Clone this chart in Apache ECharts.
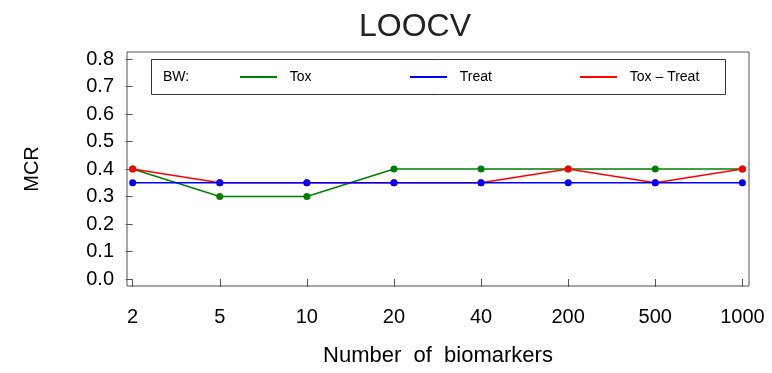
<!DOCTYPE html>
<html>
<head>
<meta charset="utf-8">
<script src="https://cdn.jsdelivr.net/npm/echarts@6/dist/echarts.min.js"></script>
<style>
html,body{margin:0;padding:0;background:#fff;}
#chart{width:772px;height:373px;}
</style>
</head>
<body>
<div id="chart"></div>
<script>
// 横轴标签(生物标志物个数)
var xLabels = ['2','5','10','20','40','200','500','1000'];
// 纵轴刻度
var yTicks = [0,0.1,0.2,0.3,0.4,0.5,0.6,0.7,0.8];
// 各方法的 MCR
var toxVals = [0.4,0.3,0.3,0.4,0.4,0.4,0.4,0.4];
var treatVals = [0.35,0.35,0.35,0.35,0.35,0.35,0.35,0.35];
var toxTreatVals = [0.4,0.35,0.35,0.35,0.35,0.4,0.35,0.4];
var seriesNames = ['Tox','Treat','Tox – Treat'];

var FONT = "'Liberation Sans', Arial, sans-serif";

function pairs(vals){
	var out = [];
	for(var i=0;i<vals.length;i++){
		out.push([i, vals[i]]);
	}
	return out;
}
var xIdx = [];
for(var i=0;i<xLabels.length;i++){ xIdx.push(i); }

function lineSeries(name, color, vals, z){
	return {
		name: name,
		type: 'line',
		data: pairs(vals),
		z: z,
		symbol: 'circle',
		symbolSize: 7,
		showSymbol: true,
		lineStyle: {color: color, width: 1.5},
		itemStyle: {color: color},
		emphasis: {disabled: true}
	};
}

/*图例:每项单独放,间距固定*/
var legendLeft = [240, 410, 580];
var legends = [];
for(var k=0;k<seriesNames.length;k++){
	legends.push({
		data: [seriesNames[k]],
		left: legendLeft[k],
		top: 70,
		padding: 0,
		itemWidth: 37,
		itemHeight: 2,
		icon: 'rect',
		selectedMode: false,
		formatter: function(name){ return '  ' + name; },
		textStyle: {fontFamily: FONT, fontSize: 14, color: '#000'}
	});
}

var myChart = echarts.init(document.getElementById('chart'));
var option = {
	animation: false,
	title: [
		{
			text: 'LOOCV',
			left: 410,
			top: 6,
			textAlign: 'center',
			textStyle: {fontFamily: FONT, fontSize: 32, fontWeight: 'normal', color: '#222'}
		},
		{
			text: 'BW:',
			left: 163,
			top: 70,
			padding: 0,
			textStyle: {fontFamily: FONT, fontSize: 14, fontWeight: 'normal', color: '#000'}
		}
	],
	legend: legends,
	graphic: [{
		type: 'rect',
		shape: {x: 151.5, y: 59.5, width: 574, height: 35},
		style: {fill: 'none', stroke: '#333', lineWidth: 1},
		silent: true
	}],
	grid: {
		left: 127,
		right: 23,
		top: 52,
		bottom: 87,
		show: true,
		borderColor: '#555',
		borderWidth: 1
	},
	xAxis: {
		type: 'value',
		min: -0.065,
		max: 7.076,
		name: 'Number  of  biomarkers',
		nameLocation: 'middle',
		nameGap: 59,
		nameTextStyle: {fontFamily: FONT, fontSize: 22, color: '#000'},
		axisLine: {show: false},
		axisTick: {show: true, length: 8, customValues: xIdx, lineStyle: {color: '#555'}},
		splitLine: {show: false},
		axisLabel: {
			customValues: xIdx,
			margin: 21,
			fontFamily: FONT,
			fontSize: 20,
			color: '#000',
			formatter: function(v){ return xLabels[Math.round(v)]; }
		}
	},
	yAxis: {
		type: 'value',
		min: -0.0255,
		max: 0.8255,
		name: 'MCR',
		nameLocation: 'middle',
		nameGap: 85,
		nameTextStyle: {fontFamily: FONT, fontSize: 20, color: '#000'},
		axisLine: {show: false},
		axisTick: {show: true, length: 7, customValues: yTicks, lineStyle: {color: '#555'}},
		splitLine: {show: false},
		axisLabel: {
			customValues: yTicks,
			margin: 13,
			fontFamily: FONT,
			fontSize: 20,
			color: '#000',
			formatter: function(v){ return v.toFixed(1); }
		}
	},
	series: [
		lineSeries('Tox', '#008000', toxVals, 2),
		lineSeries('Treat', '#0000FF', treatVals, 4),
		lineSeries('Tox – Treat', '#FF0000', toxTreatVals, 3)
	]
};
myChart.setOption(option);
</script>
</body>
</html>
